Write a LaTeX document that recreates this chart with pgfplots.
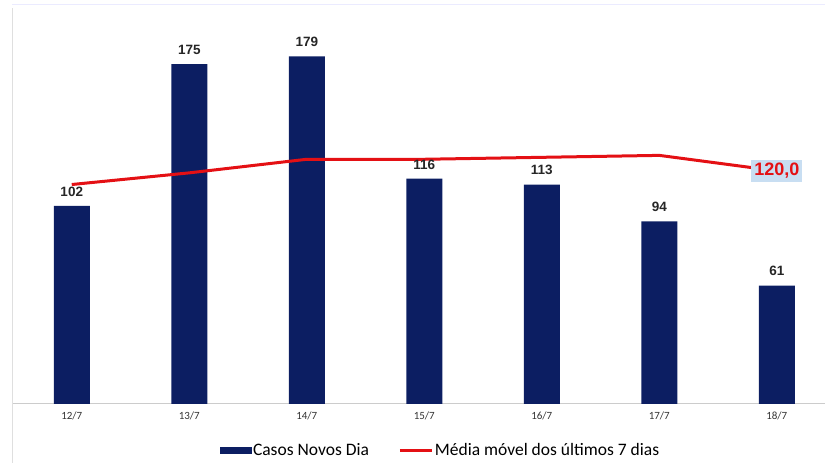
\documentclass[border=0pt]{standalone}
\usepackage{fontspec}
\setmainfont{Carlito}
\newfontfamily\arial{Liberation Sans}
\usepackage{pgfplots}
\usepackage{pgfplotstable}
\pgfplotsset{compat=1.18}

\definecolor{barblue}{RGB}{12,30,98}
\definecolor{linered}{RGB}{228,16,20}
\definecolor{lblbg}{RGB}{200,222,242}

\pgfplotstableread{
x casos media
0 102 113
1 175 119
2 179 126
3 116 126
4 113 127
5 94  128
6 61  120
}\dados

\begin{document}
\begin{tikzpicture}
\useasboundingbox (-13pt,-59pt) rectangle (812pt,404pt);
\draw[gray!25] (-1pt,-59pt) -- (-1pt,396pt);
\draw[blue!8] (-1pt,400pt) -- (812pt,400pt);
\begin{axis}[
    scale only axis,
    width=812pt, height=404pt,
    xmin=-0.5, xmax=6.41,
    ymin=0, ymax=208,
    axis x line=bottom,
    hide y axis,
    x axis line style={gray!40, line width=1pt, -},
    major tick length=0pt,
    xtick=data,
    xticklabels={12/7,13/7,14/7,15/7,16/7,17/7,18/7},
    xticklabel style={font=\fontsize{11}{13}\selectfont, text=black!80, yshift=-4pt},
    /pgf/number format/assume math mode=true,
    clip=false,
    legend style={at={(0.526,-0.114)}, anchor=center, draw=none,
        legend columns=2, font=\fontsize{17.5}{20}\selectfont,
        nodes={inner xsep=1.5pt},
        /tikz/every even column/.append style={column sep=28pt}},
    legend cell align=left,
]
\addplot[ybar, bar width=36pt, fill=barblue, draw=none,
    nodes near coords, every node near coord/.append style={font=\arial\bfseries\fontsize{13.5}{15}\selectfont, text=black!85, yshift=6pt},
    legend image code/.code={\fill[barblue] (0pt,-3.5pt) rectangle (32pt,3.5pt);}]
    table[x=x, y=casos] {\dados};
\addlegendentry{Casos Novos Dia}
\addplot[linered, line width=3pt, mark=none,
    legend image code/.code={\draw[linered, line width=3pt] (0pt,0pt) -- (32pt,0pt);}]
    table[x=x, y=media] {\dados}
    node[pos=1, fill=lblbg, inner xsep=3pt, inner ysep=3pt, text=linered, font=\arial\bfseries\fontsize{18}{20}\selectfont] {120,0};
\addlegendentry{Média móvel dos últimos 7 dias}
\end{axis}
\end{tikzpicture}
\end{document}
